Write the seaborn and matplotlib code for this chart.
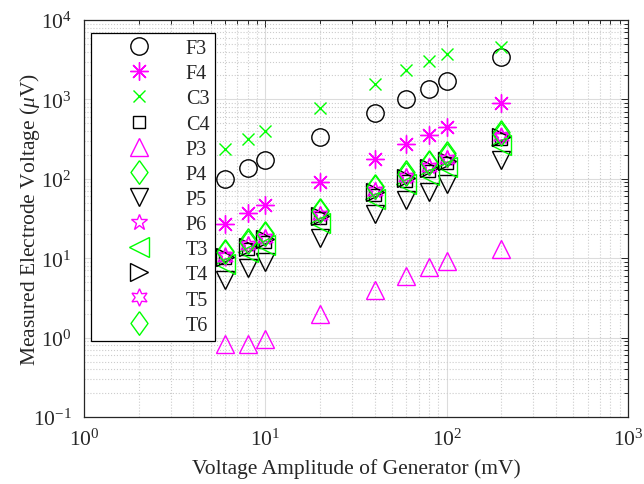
import matplotlib
matplotlib.use("Agg")
import matplotlib.pyplot as plt
import seaborn as sns
from matplotlib.ticker import LogLocator, LogFormatterSciNotation, NullFormatter

# Generator amplitude (mV) and measured electrode voltage (uV) per channel
generator_mv = [6, 8, 10, 20, 40, 60, 80, 100, 200]

f3 = [100, 137, 172, 340, 670, 1020, 1340, 1700, 3400]
f4 = [27, 37, 47, 92, 178, 272, 360, 455, 890]
c3 = [235, 315, 395, 790, 1580, 2360, 3050, 3780, 4550]
c4 = [10, 13, 16, 32, 63, 95, 127, 158, 315]
p3 = [0.82, 0.83, 0.95, 2.0, 4.0, 6.0, 7.8, 9.3, 13.2]
p4 = [12.5, 17, 21, 41, 82, 122, 165, 210, 390]
p5 = [5.3, 7.6, 9.0, 18, 36, 54, 68, 86, 172]
p6 = [11, 15, 18.5, 36, 72, 108, 145, 182, 350]
t3 = [8.5, 12, 14.5, 28, 56, 86, 112, 142, 265]
t4 = [10.5, 14, 17.5, 34, 68, 102, 137, 170, 335]
t5 = [10.5, 14.5, 18, 35, 70, 105, 140, 178, 345]
t6 = [12, 16, 20, 39, 78, 116, 158, 200, 370]

channels = ["F3", "F4", "C3", "C4", "P3", "P4", "P5", "P6", "T3", "T4", "T5", "T6"]
values = [f3, f4, c3, c4, p3, p4, p5, p6, t3, t4, t5, t6]

BLACK = "#000000"
MAGENTA = "#ff00ff"
GREEN = "#00ff00"
DIAMOND = [(0, 1), (0.72, 0), (0, -1), (-0.72, 0), (0, 1)]

# marker, colour, size (pt) for each channel
styles = {
    "F3": ("o", BLACK, 12.5),
    "F4": ((8, 2, 0), MAGENTA, 13),
    "C3": ("x", GREEN, 9),
    "C4": ("s", BLACK, 8.5),
    "P3": ("^", MAGENTA, 13.5),
    "P4": (DIAMOND, GREEN, 17),
    "P5": ("v", BLACK, 13.5),
    "P6": ("*", MAGENTA, 12),
    "T3": ("<", GREEN, 15),
    "T4": (">", BLACK, 12.5),
    "T5": ((6, 1, 0), MAGENTA, 12.5),
    "T6": (DIAMOND, GREEN, 17),
}

sns.set_theme(style="white")
plt.rcParams["font.family"] = ["Liberation Serif", "DejaVu Serif"]
plt.rcParams["mathtext.fontset"] = "custom"
plt.rcParams["mathtext.rm"] = "Liberation Serif"
plt.rcParams["mathtext.it"] = "Liberation Serif:italic"
plt.rcParams["axes.unicode_minus"] = False

fig = plt.figure(figsize=(6.44, 4.85), dpi=100)
ax = fig.add_axes([84 / 644, 1 - 418 / 485, 544 / 644, 397 / 485])
ax.set_xscale("log")
ax.set_yscale("log")

for name, vals in zip(channels, values):
    mk, col, ms = styles[name]
    sns.lineplot(x=generator_mv, y=vals, ax=ax, label=name, errorbar=None,
                 linestyle="none", marker=mk, markersize=ms,
                 markerfacecolor="none", markeredgecolor=col,
                 markeredgewidth=1.0, color=col)

ax.set_xlim(1, 1000)
ax.set_ylim(0.1, 1e4)

ax.xaxis.set_major_locator(LogLocator(base=10, numticks=10))
ax.yaxis.set_major_locator(LogLocator(base=10, numticks=10))
ax.xaxis.set_minor_locator(LogLocator(base=10, subs=range(2, 10), numticks=20))
ax.yaxis.set_minor_locator(LogLocator(base=10, subs=range(2, 10), numticks=20))
ax.xaxis.set_major_formatter(LogFormatterSciNotation())
ax.yaxis.set_major_formatter(LogFormatterSciNotation())
ax.xaxis.set_minor_formatter(NullFormatter())
ax.yaxis.set_minor_formatter(NullFormatter())

ax.grid(True, which="major", color="#dcdcdc", linestyle="-", linewidth=0.8)
ax.grid(True, which="minor", color="#cccccc", linestyle=":", linewidth=0.8)
ax.set_axisbelow(True)

for side in ax.spines.values():
    side.set_color("#262626")
    side.set_linewidth(0.9)
ax.tick_params(which="both", direction="in", top=True, right=True,
               colors="#262626", labelcolor="#262626", width=0.7)
ax.tick_params(which="major", length=5, labelsize=15.5)
ax.tick_params(which="minor", length=3)
ax.tick_params(axis="y", which="major", pad=9)
ax.tick_params(axis="x", which="major", pad=8)

ax.set_xlabel("Voltage Amplitude of Generator (mV)", fontsize=15.5,
              color="#262626", labelpad=6)
ax.set_ylabel(r"Measured Electrode Voltage ($\mu$V)", fontsize=15.5,
              color="#262626", labelpad=-7)

leg = ax.legend(loc="upper left", bbox_to_anchor=(7 / 544, (418 - 34) / 397),
                borderaxespad=0, numpoints=1, fontsize=14.5, handlelength=4.2,
                handletextpad=0.2, labelspacing=0.30, borderpad=0.3,
                fancybox=False, framealpha=1, edgecolor="black")
leg.get_frame().set_linewidth(0.9)

fig.savefig("out.png", dpi=100)
